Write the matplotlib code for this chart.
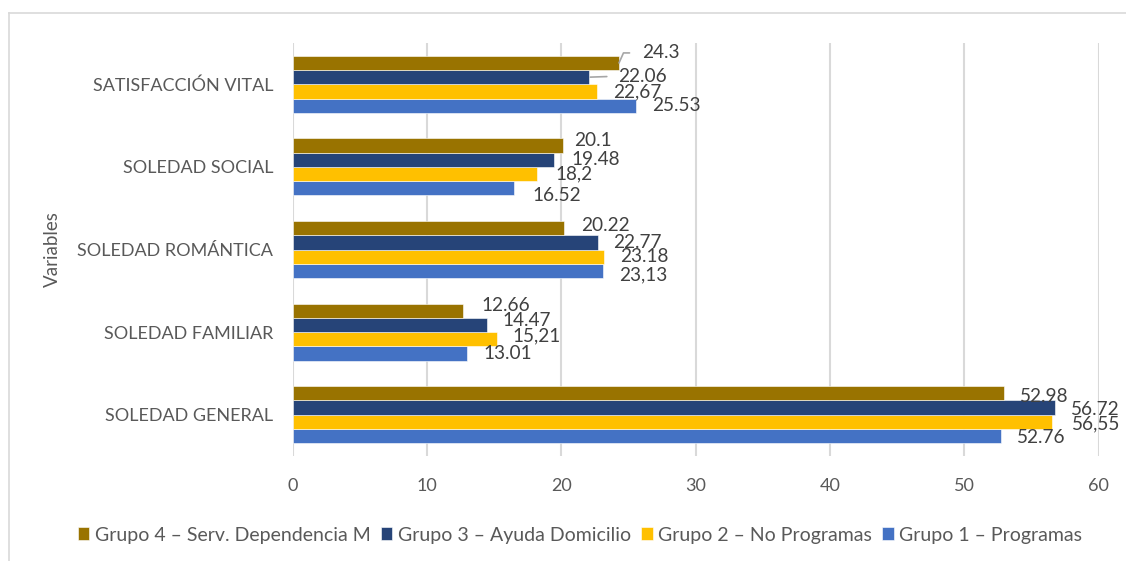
import numpy as np
import matplotlib
matplotlib.use("Agg")
import matplotlib.pyplot as plt
from matplotlib.lines import Line2D

plt.rcParams['font.family'] = ['Lato', 'DejaVu Sans']

# categories from bottom to top
categorias = ["SOLEDAD GENERAL", "SOLEDAD FAMILIAR", "SOLEDAD ROMÁNTICA",
              "SOLEDAD SOCIAL", "SATISFACCIÓN VITAL"]

grupo1 = [52.76, 13.01, 23.13, 16.52, 25.53]
grupo2 = [56.55, 15.21, 23.18, 18.2, 22.67]
grupo3 = [56.72, 14.47, 22.77, 19.48, 22.06]
grupo4 = [52.98, 12.66, 20.22, 20.1, 24.3]

etiquetas1 = ["52.76", "13.01", "23,13", "16.52", "25.53"]
etiquetas2 = ["56,55", "15,21", "23.18", "18,2", "22,67"]
etiquetas3 = ["56.72", "14.47", "22.77", "19.48", "22.06"]
etiquetas4 = ["52.98", "12.66", "20.22", "20.1", "24.3"]

nombres = ["Grupo 1 – Programas", "Grupo 2 – No Programas",
           "Grupo 3 – Ayuda Domicilio", "Grupo 4 – Serv. Dependencia M"]
colores = ["#4472C4", "#FFC000", "#264478", "#997300"]

xticks = [0, 10, 20, 30, 40, 50, 60]

# label offsets in pixels (dx right, dy down) as laid out in the original
offsets = [
    [(16, 1), (16, 0), (16, 4.5), (18, 7), (17, 0)],
    [(20, 2), (16, -3), (16, 0), (18, 0), (16, 0)],
    [(16, 2.4), (16, -4), (15, 0), (17, 0), (29, -1)],
    [(15.5, 3), (19, -5), (17, -2.5), (12, -5.5), (23, -10)],
]

series = [grupo1, grupo2, grupo3, grupo4]
etiquetas = [etiquetas1, etiquetas2, etiquetas3, etiquetas4]

fig = plt.figure(figsize=(11.26, 5.61), dpi=100)
ax = fig.add_axes([292.5 / 1126, 1 - 456 / 561, (1098.7 - 292.5) / 1126, (456 - 43) / 561])

y = np.arange(len(categorias))
h = 0.1725
pos = [-1.5, -0.5, 0.5, 1.5]  # grupo1 bottom, grupo4 top

for i, vals in enumerate(series):
    ax.barh(y + pos[i] * h, vals, height=h, color=colores[i], label=nombres[i],
            edgecolor="white", linewidth=0.4, zorder=3)
    for j, v in enumerate(vals):
        dx, dy = offsets[i][j]
        lead = None
        if i == 3 and j == 4:
            lead = dict(arrowstyle="-", color="#a6a6a6", lw=1.2, shrinkA=7, shrinkB=0,
                        relpos=(0, 0.5), connectionstyle="angle,angleA=0,angleB=66,rad=0")
        if i == 2 and j == 4:
            lead = dict(arrowstyle="-", color="#a6a6a6", lw=1.2, shrinkA=6, shrinkB=1,
                        relpos=(0, 0.5))
        ax.annotate(etiquetas[i][j], xy=(v, y[j] + pos[i] * h), xytext=(dx, -dy),
                    textcoords="offset pixels", ha="left", va="center",
                    fontsize=13.7, color="#404040", arrowprops=lead, zorder=4)

ax.set_xlim(0, 60)
ax.set_ylim(-0.5, len(categorias) - 0.5)
ax.set_xticks(xticks)
ax.set_yticks(y)
ax.set_yticklabels(categorias, fontsize=13)
ax.tick_params(axis="both", length=0, colors="#595959")
ax.tick_params(axis="x", labelsize=13)
ax.tick_params(axis="y", pad=14)
ax.tick_params(axis="x", pad=16)
ax.grid(axis="x", color="#d9d9d9", lw=1.5, zorder=0)
for s in ax.spines.values():
    s.set_visible(False)
ax.set_ylabel("Variables", color="#595959", fontsize=13.5, labelpad=12)

hs, ls = ax.get_legend_handles_labels()
fig.legend(hs[::-1], ls[::-1], loc="center", bbox_to_anchor=(580 / 1126, 1 - 535 / 561),
           ncol=4, frameon=False, fontsize=14, labelcolor="#595959",
           handlelength=0.6, handleheight=0.6, handletextpad=0.3, columnspacing=0.5)

# outer chart border (top and left visible)
fig.add_artist(Line2D([9 / 1126, 9 / 1126], [0, 1 - 13 / 561], color="#d9d9d9", lw=1.2))
fig.add_artist(Line2D([9 / 1126, 1], [1 - 13 / 561, 1 - 13 / 561], color="#d9d9d9", lw=1.2))

fig.savefig("out.png", dpi=100)
